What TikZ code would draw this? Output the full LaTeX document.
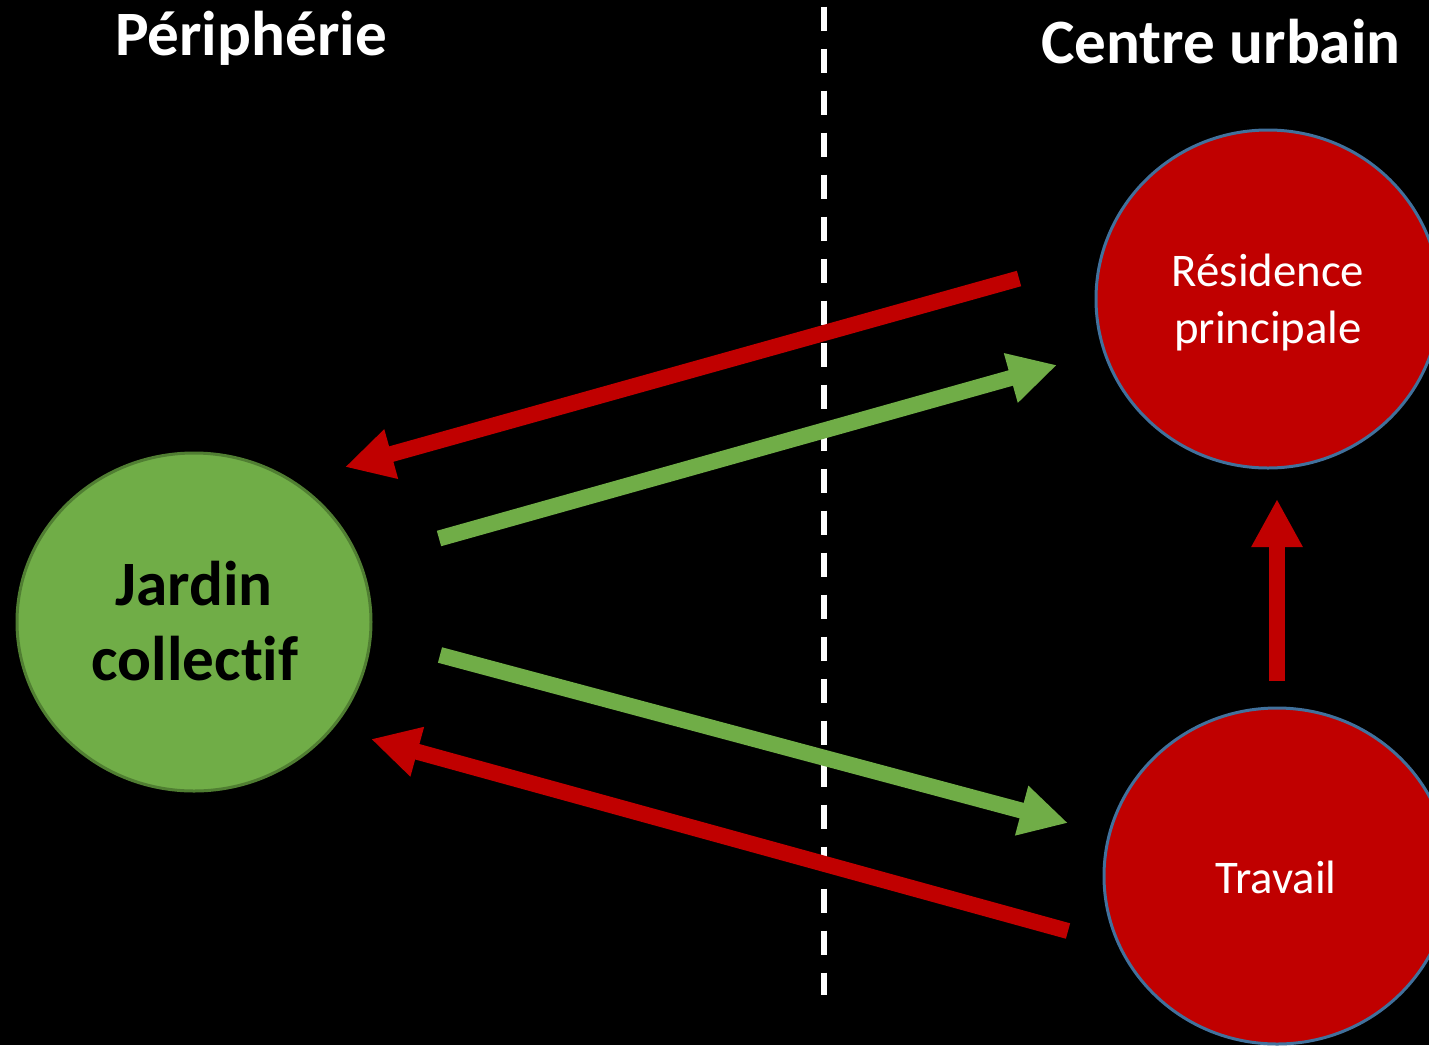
\documentclass[tikz,border=0pt]{standalone}
\usepackage{fontspec}
\setmainfont{Carlito}[Ligatures=NoCommon]
\usetikzlibrary{arrows.meta,shapes.geometric}
\definecolor{gfill}{HTML}{70AD47}
\definecolor{gline}{HTML}{507E32}
\definecolor{rfill}{HTML}{C00000}
\definecolor{bline}{HTML}{41719C}
\tikzset{
  titletext/.style={text=white,font=\bfseries\fontsize{31.6}{38}\selectfont,anchor=base,inner sep=0pt},
  gardentext/.style={text=black,font=\bfseries\fontsize{31.6}{38}\selectfont,anchor=base,inner sep=0pt},
  citytext/.style={text=white,font=\fontsize{23.4}{28}\selectfont,anchor=base,inner sep=0pt},
  greenball/.style={ellipse,fill=gfill,draw=gline,line width=1.5pt,inner sep=0pt},
  redball/.style={ellipse,fill=rfill,draw=bline,line width=1.5pt,inner sep=0pt},
  redarrow/.style={draw=rfill,line width=8pt,-{Triangle[width=24pt,length=24pt]}},
  greenarrow/.style={draw=gfill,line width=8pt,-{Triangle[width=24pt,length=24pt]}},
  divider/.style={draw=white,line width=3pt,dash pattern=on 12pt off 9pt}
}
\begin{document}
\begin{tikzpicture}[x=0.5pt,y=-0.5pt]
\fill[black] (0,0) rectangle (1429,1045);
\useasboundingbox (0,0) rectangle (1429,1045);

% divider
\coordinate (dtop) at (823.5,6.7);
\coordinate (dbot) at (823.5,995);
\draw[divider] (dtop) -- (dbot);

% titles
\node[titletext] (peri) at (251,55) {Périphérie};
\node[titletext] (centre) at (1221,63) {Centre urbain};

% circles
\node[greenball,minimum width=177pt,minimum height=169pt] (jardin) at (194,622) {};
\node[redball,minimum width=172pt,minimum height=169pt] (res) at (1268,299) {};
\node[redball,minimum width=173pt,minimum height=168pt] (trav) at (1277,876) {};

\node[gardentext] (j1) at (194,605) {Jardin};
\node[gardentext] (j2) at (195,680) {collectif};
\node[citytext] (r1) at (1268,286) {Résidence};
\node[citytext] (r2) at (1268,343) {principale};
\node[citytext] (t1) at (1276,893) {Travail};

% arrow end points
\coordinate (a1s) at (1019,278.5);
\coordinate (a1e) at (345,467);
\coordinate (a2s) at (439,538.5);
\coordinate (a2e) at (1057,365);
\coordinate (a3s) at (440,655);
\coordinate (a3e) at (1068,823);
\coordinate (a4s) at (1068,931);
\coordinate (a4e) at (371,739);
\coordinate (a5s) at (1277,681);
\coordinate (a5e) at (1277,499);

\draw[redarrow] (a1s) -- (a1e);
\draw[greenarrow] (a2s) -- (a2e);
\draw[greenarrow] (a3s) -- (a3e);
\draw[redarrow] (a4s) -- (a4e);
\draw[redarrow] (a5s) -- (a5e);
\end{tikzpicture}
\end{document}
